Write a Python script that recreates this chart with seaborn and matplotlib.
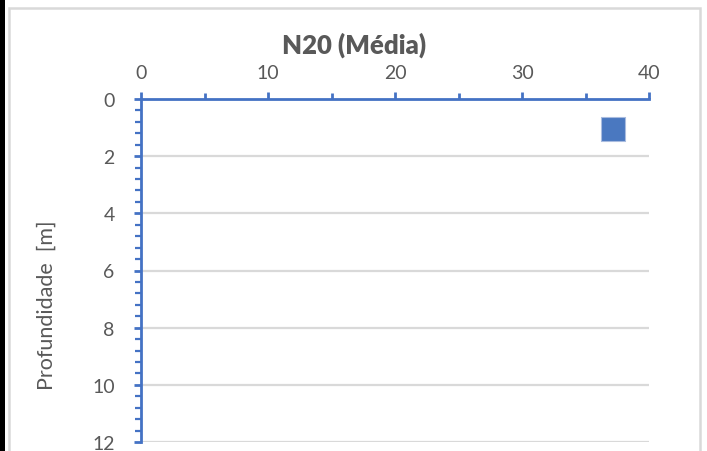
import matplotlib
matplotlib.use("Agg")
import matplotlib.pyplot as plt
import seaborn as sns
import pandas as pd
from matplotlib.ticker import MultipleLocator
from matplotlib.patches import Rectangle

# Data
n20_values = [37.2]
depths = [1.05]
title_text = "N20 (Média)"
ylabel_text = "Profundidade  [m]"
x_ticks = [0, 10, 20, 30, 40]
y_ticks = [0, 2, 4, 6, 8, 10, 12]

df = pd.DataFrame({"N20": n20_values, "Profundidade": depths})

sns.set_theme(style="white")
plt.rcParams['font.family'] = ['Lato', 'DejaVu Sans']

W, H = 707, 452
fig = plt.figure(figsize=(W / 100, H / 100), dpi=100)
fig.patch.set_facecolor("white")

# outer chart frame and left dark strip
fig.add_artist(Rectangle((9 / W, -0.1), (700 - 9) / W, 1 - 9 / H + 0.1,
                         transform=fig.transFigure, fill=False,
                         edgecolor="#d9d9d9", linewidth=1.8))
fig.add_artist(Rectangle((0, 0), 5 / W, 1, transform=fig.transFigure,
                         facecolor="black", edgecolor="none"))

left, right = 141 / W, 649 / W
top, bottom = 1 - 100 / H, 1 - 443 / H
ax = fig.add_axes([left, bottom, right - left, top - bottom])

blue = "#4472C4"
grey_txt = "#595959"

ax.set_xlim(0, 40)
ax.set_ylim(12, 0)
ax.set_xticks(x_ticks)
ax.set_yticks(y_ticks)
ax.xaxis.set_minor_locator(MultipleLocator(5))
ax.yaxis.set_minor_locator(MultipleLocator(0.4))
ax.xaxis.tick_top()
ax.yaxis.grid(True, which="major", color="#d9d9d9", linewidth=1.6)
ax.xaxis.grid(False)
ax.set_axisbelow(True)

for s in ["right", "bottom"]:
    ax.spines[s].set_visible(False)
for s in ["top", "left"]:
    ax.spines[s].set_color(blue)
    ax.spines[s].set_linewidth(2)

ax.tick_params(axis="x", which="major", top=True, bottom=False, length=5, width=2,
               color=blue, labelcolor=grey_txt, labelsize=14, pad=8, direction="out")
ax.tick_params(axis="x", which="minor", top=True, bottom=False, length=4, width=2,
               color=blue, direction="out")
ax.tick_params(axis="y", which="major", left=True, length=5, width=2,
               color=blue, labelcolor=grey_txt, labelsize=14, pad=14, direction="out")
ax.tick_params(axis="y", which="minor", left=True, length=4, width=1.6,
               color=blue, direction="out")

sns.scatterplot(data=df, x="N20", y="Profundidade", ax=ax, marker="s", s=300,
                color="#4A78C0", edgecolor="#A9BCDF", linewidth=0.8,
                clip_on=False, zorder=5, legend=False)

ax.set_xlabel("")
ax.set_ylabel("")

fig.text(354 / W, 1 - 45 / H, title_text, ha="center", va="center",
         fontsize=18.5, fontweight="heavy", color=grey_txt)
fig.text(47 / W, 1 - 305 / H, ylabel_text, ha="center", va="center",
         rotation=90, fontsize=15.5, color=grey_txt)

fig.savefig("out.png", dpi=100, facecolor="white")
